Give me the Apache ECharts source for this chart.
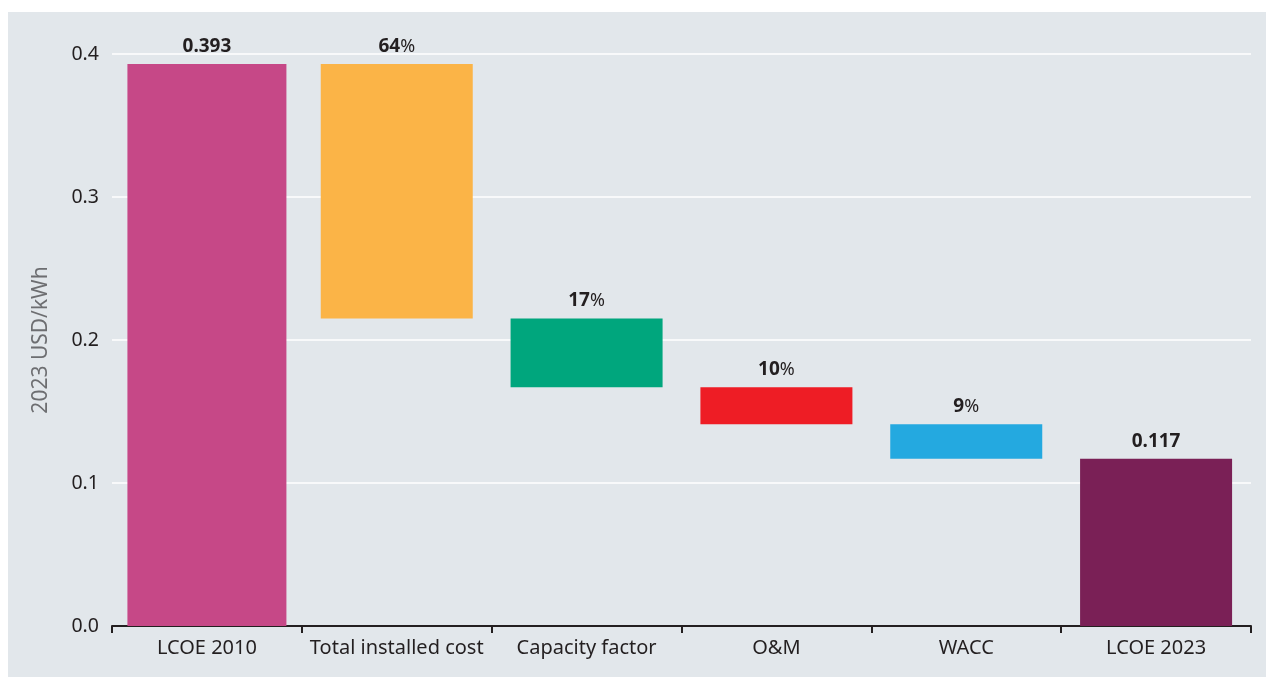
<!DOCTYPE html>
<html>
<head>
<meta charset="utf-8">
<script src="https://cdn.jsdelivr.net/npm/echarts@6/dist/echarts.min.js"></script>
<style>
  html, body { margin: 0; padding: 0; background: #ffffff; }
  #chart { position: absolute; left: 8px; top: 12px; width: 1258px; height: 665px; background: #e2e7eb; }
</style>
</head>
<body>
<div id="chart"></div>
<script>
// Categories along the x axis
const categories = ['LCOE 2010', 'Total installed cost', 'Capacity factor', 'O&M', 'WACC', 'LCOE 2023'];
// Running LCOE level (USD/kWh) after each step: start, after each driver
const levels = [0.393, 0.215, 0.167, 0.141, 0.117];
// Labels shown above bars
const barLabels = ['0.393', '64%', '17%', '10%', '9%', '0.117'];
// Y axis ticks
const yMin = 0, yMax = 0.4, yInterval = 0.1;
const colors = ['#c64887', '#fbb447', '#00a67d', '#ee1d25', '#24a9e0', '#7a2056'];

const n = categories.length;
const baseData = [], valueData = [], firstData = [];
for (let i = 0; i < n; i++) {
  if (i === 0) {
    baseData.push('-'); valueData.push('-');
    firstData.push({ value: levels[0], itemStyle: { color: colors[0] } });
  } else if (i === n - 1) {
    baseData.push(0);
    valueData.push({ value: levels[levels.length - 1], itemStyle: { color: colors[i] } });
    firstData.push('-');
  } else {
    baseData.push(levels[i]);
    valueData.push({ value: +(levels[i - 1] - levels[i]).toFixed(4), itemStyle: { color: colors[i] } });
    firstData.push('-');
  }
}

function fmtLabel(p) {
  const t = barLabels[p.dataIndex];
  if (t.endsWith('%')) return '{b|' + t.slice(0, -1) + '}{p|%}';
  return '{b|' + t + '}';
}
const labelCfg = {
  show: true, position: 'top', distance: 8,
  formatter: fmtLabel,
  rich: {
    b: { fontFamily: 'Noto Sans', fontWeight: 'bold', fontSize: 19, color: '#231f20' },
    p: { fontFamily: 'Noto Sans', fontWeight: 'normal', fontSize: 18, color: '#231f20' }
  }
};

const chart = echarts.init(document.getElementById('chart'));
chart.setOption({
  backgroundColor: '#e2e7eb',
  animation: false,
  textStyle: { fontFamily: 'Noto Sans' },
  grid: { left: 104, right: 15, top: 42, bottom: 51, containLabel: false },
  xAxis: [{
    type: 'category', data: categories,
    axisLine: { lineStyle: { color: '#231f20', width: 2 } },
    axisTick: { show: true, interval: 0, length: 7, lineStyle: { color: '#231f20', width: 2 } },
    axisLabel: { interval: 0, color: '#231f20', fontSize: 20, margin: 12, fontFamily: 'Noto Sans' }
  }, {
    type: 'category', data: categories, show: false
  }],
  yAxis: {
    type: 'value', min: yMin, max: yMax, interval: yInterval,
    name: '2023 USD/kWh', nameLocation: 'middle', nameGap: 60,
    nameTextStyle: { color: '#6d6e71', fontSize: 21, fontFamily: 'Noto Sans' },
    axisLine: { show: false }, axisTick: { show: false },
    axisLabel: { color: '#231f20', fontSize: 19.5, margin: 13, fontFamily: 'Noto Sans', formatter: v => v.toFixed(1) },
    splitLine: { lineStyle: { color: '#ffffff', width: 1.5 } }
  },
  series: [{
    type: 'bar', stack: 'w', barWidth: 152, xAxisIndex: 0,
    data: baseData, itemStyle: { color: 'transparent' }, silent: true
  }, {
    type: 'bar', stack: 'w', barWidth: 152, xAxisIndex: 0,
    data: valueData, label: labelCfg
  }, {
    type: 'bar', barWidth: 159, xAxisIndex: 1,
    data: firstData, label: labelCfg
  }]
});
</script>
</body>
</html>
